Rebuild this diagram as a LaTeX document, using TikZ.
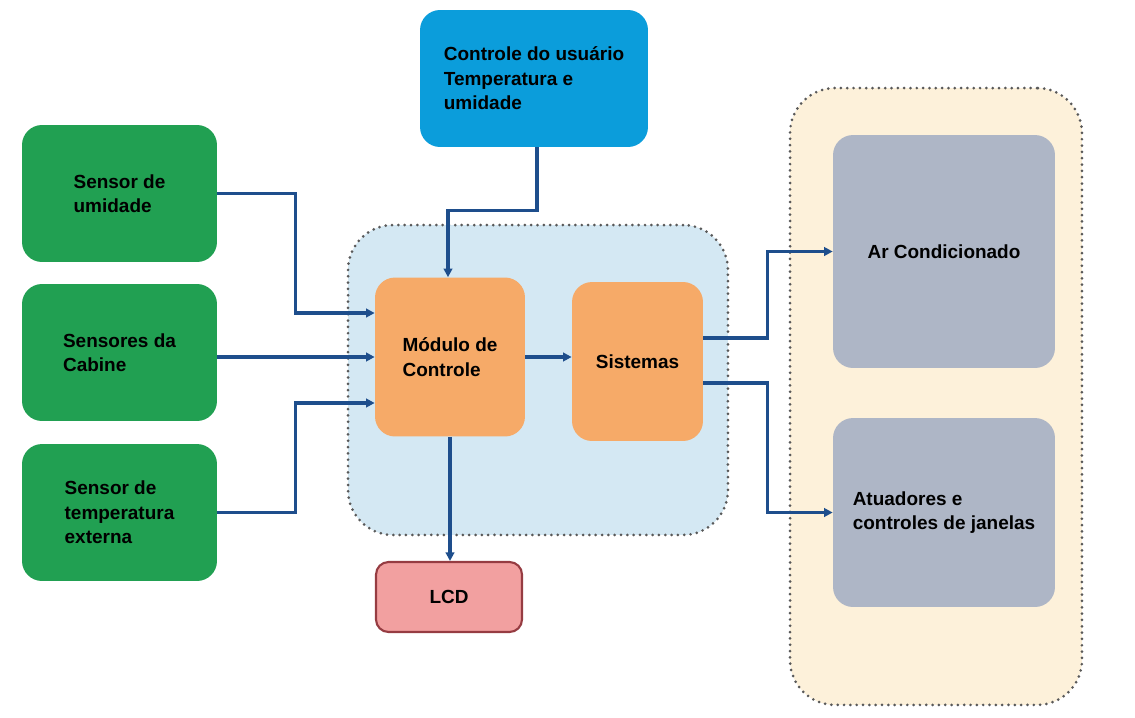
\documentclass[tikz,border=0pt]{standalone}
\usepackage{fontspec}
\setmainfont{Liberation Sans}
\usetikzlibrary{positioning, arrows.meta}
\definecolor{SensorGreen}{RGB}{33, 160, 82}
\definecolor{UserBlue}{RGB}{11, 157, 219}
\definecolor{CtrlOrange}{RGB}{246, 170, 104}
\definecolor{LcdPink}{RGB}{242, 160, 160}
\definecolor{LcdBorder}{RGB}{150, 60, 66}
\definecolor{ActGrey}{RGB}{174, 182, 198}
\definecolor{ZoneBeige}{RGB}{253, 241, 218}
\definecolor{ZoneBlue}{RGB}{212, 232, 243}
\definecolor{WireBlue}{RGB}{30, 78, 140}

\begin{document}
\begin{tikzpicture}[
        x=0.02cm, y=-0.02cm,
        box/.style={
            rectangle,
            rounded corners=0.4cm,
            align=left,
            inner sep=0pt,
            font=\fontsize{10.8}{13.9}\selectfont\bfseries
        },
        sensor/.style={box, fill=SensorGreen, minimum width=3.9cm, minimum height=2.74cm},
        ctrl/.style={box, fill=CtrlOrange, minimum height=3.18cm},
        actuator/.style={box, fill=ActGrey, minimum width=4.44cm},
        zone/.style={rectangle, rounded corners=0.9cm, draw=black!65, line width=1.7pt,
            dash pattern=on 0pt off 3.6pt, line cap=round},
        arrow/.style={-{Triangle[length=1.7mm, width=1.7mm]}, line width=2pt, WireBlue}
    ]
    \useasboundingbox (0,0) rectangle (1135,717);

    % Zonas pontilhadas
    \node[zone, fill=ZoneBlue, minimum width=7.6cm, minimum height=6.2cm] (central) at (538,380) {};
    \node[zone, fill=ZoneBeige, minimum width=5.84cm, minimum height=12.34cm] (saidas) at (936,396.5) {};

    % Sensores
    \node[sensor] (umid) at (119.5,193.5) {Sensor de\\umidade};
    \node[sensor] (cabine) at (119.5,352.5) {Sensores da\\Cabine};
    \node[sensor] (externa) at (119.5,512.5) {Sensor de\\temperatura\\externa};

    % Controle do usuario
    \node[box, fill=UserBlue, minimum width=4.56cm, minimum height=2.74cm] (usuario) at (534,78.5)
        {Controle do usuário\\Temperatura e\\umidade};

    % Bloco central
    \node[ctrl, minimum width=3cm] (modulo) at (450,357) {Módulo de\\Controle};
    \node[ctrl, minimum width=2.62cm] (sistemas) at (637.5,361.5) {Sistemas};
    \node[box, rounded corners=0.25cm, fill=LcdPink, draw=LcdBorder, line width=1.2pt,
        minimum width=2.92cm, minimum height=1.4cm] (lcd) at (449,597) {LCD};

    % Atuadores
    \node[actuator, minimum height=4.66cm] (ar) at (944,251.5) {Ar Condicionado};
    \node[actuator, minimum height=3.78cm] (atuadores) at (944,512.5) {Atuadores e\\controles de janelas};

    % Flechas
    \draw[arrow] (umid.east) -- ++(78,0) |- ([yshift=0.88cm]modulo.west);
    \draw[arrow] (modulo.west -| cabine.east) -- (modulo.west);
    \draw[arrow] (externa.east) -- ++(78,0) |- ([yshift=-0.92cm]modulo.west);
    \draw[arrow] ([xshift=0.06cm]usuario.south) -- ++(0,63) -| ([xshift=-0.04cm]modulo.north);
    \draw[arrow] (modulo.east) -- (modulo.east -| sistemas.west);
    \draw[arrow] (modulo.south) -- (modulo.south |- lcd.north);
    \draw[arrow] ([yshift=0.47cm]sistemas.east) -- ++(64,0) |- (ar.west);
    \draw[arrow] ([yshift=-0.43cm]sistemas.east) -- ++(64,0) |- (atuadores.west);

\end{tikzpicture}
\end{document}
